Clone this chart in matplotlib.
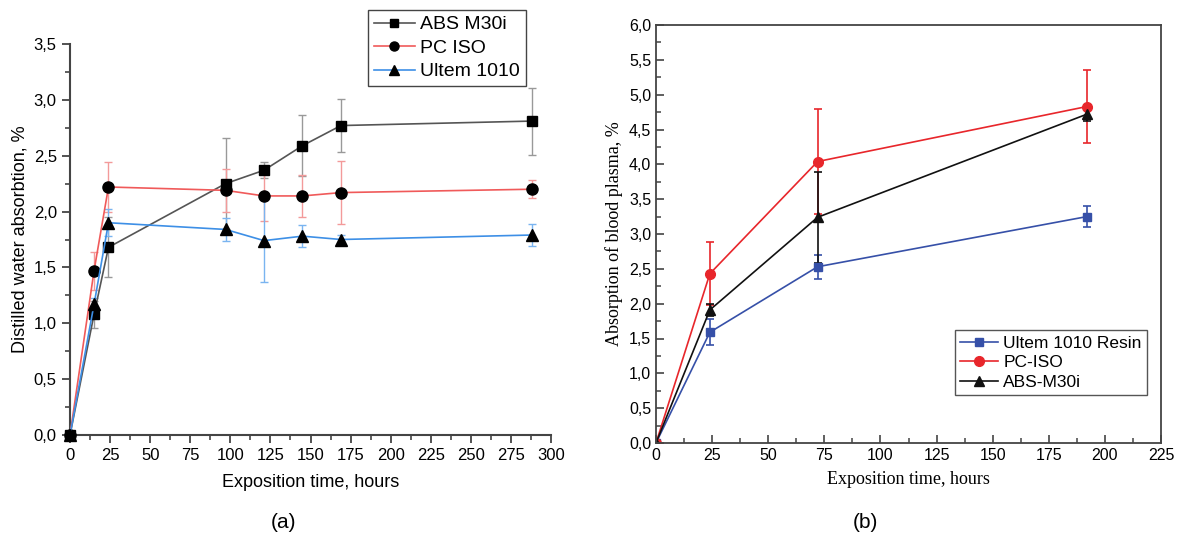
import numpy as np
import matplotlib
matplotlib.use('Agg')
import matplotlib.pyplot as plt
from matplotlib.ticker import MultipleLocator, FuncFormatter
from matplotlib.lines import Line2D

# (a) distilled water
hours_a = [0, 15, 24, 97, 121, 145, 169, 288]
abs_a = [0, 1.08, 1.68, 2.25, 2.37, 2.59, 2.77, 2.81]
abs_a_err = [0, 0.12, 0.27, 0.41, 0.07, 0.27, 0.24, 0.30]
pc_a = [0, 1.47, 2.22, 2.19, 2.14, 2.14, 2.17, 2.20]
pc_a_err = [0, 0.17, 0.22, 0.19, 0.22, 0.19, 0.28, 0.08]
ult_a = [0, 1.17, 1.90, 1.84, 1.74, 1.78, 1.75, 1.79]
ult_a_err = [0, 0.06, 0.12, 0.10, 0.37, 0.10, 0.04, 0.10]

# (b) blood plasma
hours_b = [0, 24, 72, 192]
ult_b = [0, 1.59, 2.53, 3.25]
ult_b_err = [0, 0.19, 0.17, 0.15]
pc_b = [0, 2.43, 4.04, 4.83]
pc_b_err = [0, 0.45, 0.75, 0.53]
abs_b = [0, 1.91, 3.24, 4.72]
abs_b_err = [0, 0.09, 0.65, 0.10]

comma = FuncFormatter(lambda v, p: ('%.1f' % v).replace('.', ','))
sans = ['Liberation Sans', 'DejaVu Sans']
serif = ['Liberation Serif', 'DejaVu Serif']

fig = plt.figure(figsize=(11.8, 5.41), dpi=100)

# ---- left panel
ax1 = fig.add_axes([70/1180, 1-435/541, 481/1180, 391/541])
styles_a = [
    (abs_a, abs_a_err, '#555555', '#999999', 's', 7, 'ABS M30i'),
    (pc_a, pc_a_err, '#f05a5a', '#f39a9a', 'o', 8, 'PC ISO'),
    (ult_a, ult_a_err, '#3d8fe6', '#7ab4f0', '^', 8, 'Ultem 1010'),
]
handles_a = []
for y, e, col, ecol, mk, ms, lab in styles_a:
    ax1.errorbar(hours_a, y, yerr=e, color=col, ecolor=ecol, lw=1.2, elinewidth=1, capsize=3,
                 marker=mk, ms=ms, mfc='black', mec='black', clip_on=False, zorder=3)
    handles_a.append(Line2D([], [], color=col, lw=1.2, marker=mk, ms=ms - 1.5,
                            mfc='black', mec='black', label=lab))
ax1.set_xlim(0, 300)
ax1.set_ylim(0, 3.5)
for s in ['top', 'right']:
    ax1.spines[s].set_visible(False)
for s in ['left', 'bottom']:
    ax1.spines[s].set_color('#444444')
    ax1.spines[s].set_linewidth(1.5)
ax1.xaxis.set_major_locator(MultipleLocator(25))
ax1.xaxis.set_minor_locator(MultipleLocator(12.5))
ax1.yaxis.set_major_locator(MultipleLocator(0.5))
ax1.yaxis.set_minor_locator(MultipleLocator(0.25))
ax1.yaxis.set_major_formatter(comma)
ax1.tick_params(which='major', direction='out', length=6, width=1.3, color='#444444', labelsize=12)
ax1.tick_params(which='minor', direction='out', length=3.5, width=1.2, color='#444444')
for lab in ax1.get_xticklabels() + ax1.get_yticklabels():
    lab.set_family(sans)
ax1.set_xlabel('Exposition time, hours', fontsize=13, family=sans, labelpad=8)
ax1.set_ylabel('Distilled water absorbtion, %', fontsize=13, family=sans, labelpad=4)
leg1 = ax1.legend(handles=handles_a, loc='upper left', bbox_to_anchor=(368/1180, 1-10/541),
                  bbox_transform=fig.transFigure,
                  prop={'family': sans, 'size': 14}, frameon=True, fancybox=False, framealpha=1,
                  borderpad=0.3, handlelength=2.1, handletextpad=0.3, labelspacing=0.3, borderaxespad=0)
leg1.get_frame().set_edgecolor('#444444')
leg1.get_frame().set_linewidth(1.0)

# ---- right panel
ax2 = fig.add_axes([656/1180, 1-443/541, 505/1180, 418/541])
styles_b = [
    (ult_b, ult_b_err, '#3650a8', 's', 6, 'Ultem 1010 Resin'),
    (pc_b, pc_b_err, '#e8262b', 'o', 7, 'PC-ISO'),
    (abs_b, abs_b_err, '#111111', '^', 7, 'ABS-M30i'),
]
handles_b = []
for y, e, col, mk, ms, lab in styles_b:
    ax2.errorbar(hours_b, y, yerr=e, color=col, lw=1.2, elinewidth=1.2, capsize=3,
                 capthick=1.2, marker=mk, ms=ms)
    handles_b.append(Line2D([], [], color=col, lw=1.2, marker=mk, ms=ms, label=lab))
ax2.set_xlim(0, 225)
ax2.set_ylim(0, 6)
for s in ax2.spines.values():
    s.set_color('#444444')
    s.set_linewidth(1.3)
ax2.xaxis.set_major_locator(MultipleLocator(25))
ax2.xaxis.set_minor_locator(MultipleLocator(12.5))
ax2.yaxis.set_major_locator(MultipleLocator(0.5))
ax2.yaxis.set_minor_locator(MultipleLocator(0.25))
ax2.yaxis.set_major_formatter(comma)
ax2.tick_params(which='major', direction='in', length=6, width=1.2, color='#444444', labelsize=11.5)
ax2.tick_params(which='minor', direction='in', length=3.5, width=1.1, color='#444444')
for lab in ax2.get_xticklabels() + ax2.get_yticklabels():
    lab.set_family(sans)
ax2.set_xlabel('Exposition time, hours', fontsize=13, family=serif, labelpad=6)
ax2.set_ylabel('Absorption of blood plasma, %', fontsize=13, family=serif, labelpad=4)
leg2 = ax2.legend(handles=handles_b, loc='lower right', bbox_to_anchor=(0.972, 0.115),
                  prop={'family': sans, 'size': 12.5}, frameon=True, fancybox=False, framealpha=1,
                  borderpad=0.3, handlelength=2.2, handletextpad=0.3, labelspacing=0.25, borderaxespad=0)
leg2.get_frame().set_edgecolor('#555555')
leg2.get_frame().set_linewidth(1.0)

fig.text(283/1180, 1-523/541, '(a)', fontsize=15, family=sans, ha='center', va='center')
fig.text(865/1180, 1-523/541, '(b)', fontsize=15, family=sans, ha='center', va='center')

fig.savefig('out.png', dpi=100)
